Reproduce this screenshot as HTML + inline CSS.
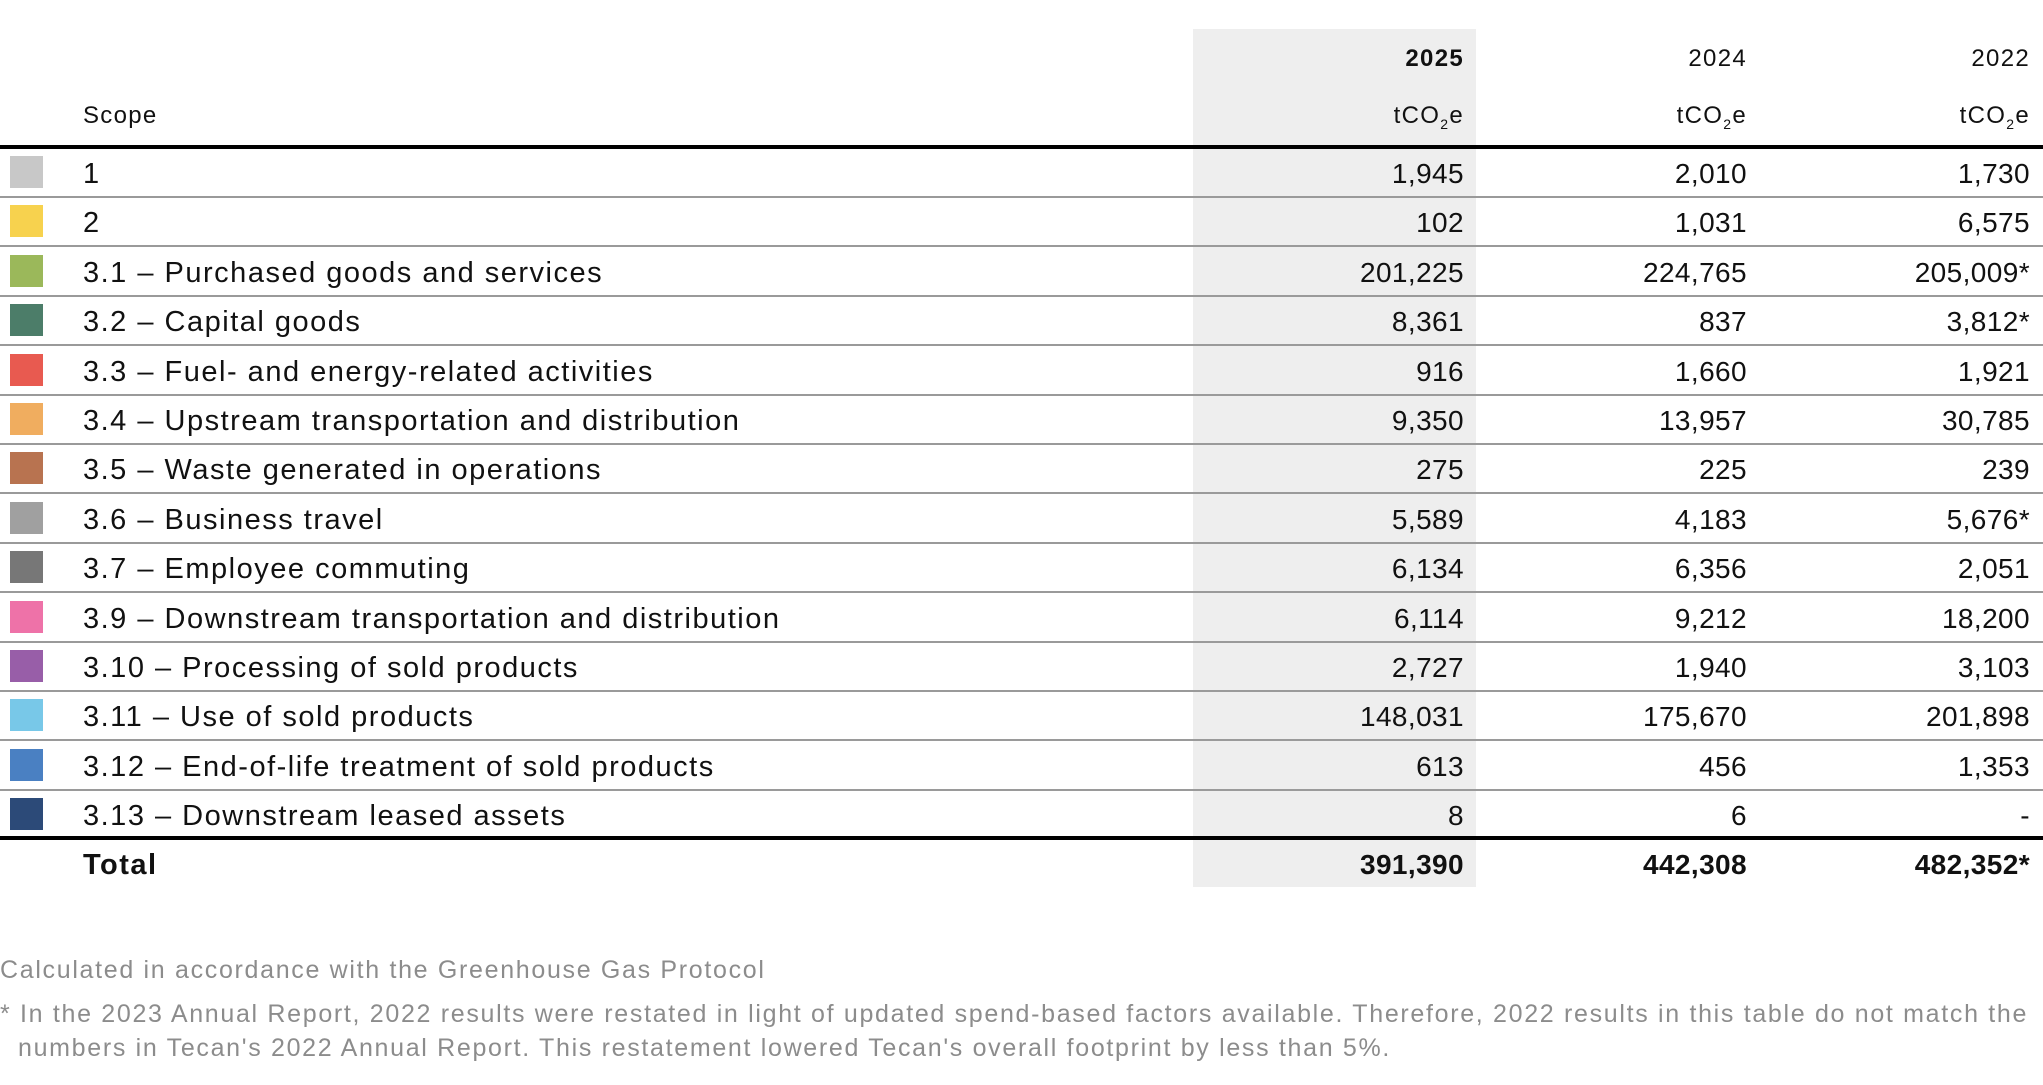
<!DOCTYPE html>
<html><head><meta charset="utf-8"><style>
body{margin:0;width:2043px;height:1085px;background:#fff;position:relative;overflow:hidden;font-family:"Liberation Sans",sans-serif;color:#111}
.a{position:absolute}
.shade{left:1193px;top:29px;width:283px;height:858px;background:#eeeeee}
.t{position:absolute;font-size:28px;line-height:32px;white-space:nowrap}
.lab{font-size:29px;letter-spacing:1.5px}
.r{text-align:right}
.n{letter-spacing:0.4px}
.hl{position:absolute;left:0;width:2043px;height:2px;background:#9a9a9a}
.thick{position:absolute;left:0;width:2043px;height:4px;background:#000}
.sw{position:absolute;left:10px;width:33px;height:32px}
.h{font-size:24px;letter-spacing:1.3px}
.foot{position:absolute;left:0;font-size:25px;letter-spacing:1.68px;color:#8c8c8c;white-space:nowrap}
</style></head><body>
<div class="a shade"></div>
<div class="t h r" style="left:1200px;width:264px;top:43px;font-weight:bold">2025</div>
<div class="t h r" style="left:1480px;width:267px;top:43px">2024</div>
<div class="t h r" style="left:1760px;width:270px;top:43px">2022</div>
<div class="t h" style="left:83px;top:100px">Scope</div>
<div class="t h r" style="left:1200px;width:264px;top:100px">tCO<sub style="font-size:14px">2</sub>e</div>
<div class="t h r" style="left:1480px;width:267px;top:100px">tCO<sub style="font-size:14px">2</sub>e</div>
<div class="t h r" style="left:1760px;width:270px;top:100px">tCO<sub style="font-size:14px">2</sub>e</div>
<div class="thick" style="top:145px"></div>
<div id="rows"></div>
<div class="thick" style="top:836px"></div>
<div class="t lab" style="left:83px;top:849px;font-weight:bold">Total</div>
<div class="t r n" style="left:1200px;width:264px;top:849px;font-weight:bold">391,390</div>
<div class="t r n" style="left:1480px;width:267px;top:849px;font-weight:bold">442,308</div>
<div class="t r n" style="left:1760px;width:270px;top:849px;font-weight:bold">482,352*</div>
<div class="foot" style="top:956px">Calculated in accordance with the Greenhouse Gas Protocol</div>
<div class="foot" style="top:1000px">* In the 2023 Annual Report, 2022 results were restated in light of updated spend-based factors available. Therefore, 2022 results in this table do not match the</div>
<div class="foot" style="top:1034px;left:18px">numbers in Tecan's 2022 Annual Report. This restatement lowered Tecan's overall footprint by less than 5%.</div>
<script>
var d=[["#c8c8c8","1","1,945","2,010","1,730"],["#f7d24e","2","102","1,031","6,575"],["#9bb85a","3.1 – Purchased goods and services","201,225","224,765","205,009*"],["#4c7d69","3.2 – Capital goods","8,361","837","3,812*"],["#e85a50","3.3 – Fuel- and energy-related activities","916","1,660","1,921"],["#f0ad5f","3.4 – Upstream transportation and distribution","9,350","13,957","30,785"],["#b87350","3.5 – Waste generated in operations","275","225","239"],["#a0a0a0","3.6 – Business travel","5,589","4,183","5,676*"],["#777777","3.7 – Employee commuting","6,134","6,356","2,051"],["#ee72a8","3.9 – Downstream transportation and distribution","6,114","9,212","18,200"],["#985ea8","3.10 – Processing of sold products","2,727","1,940","3,103"],["#78c8e8","3.11 – Use of sold products","148,031","175,670","201,898"],["#4a80c2","3.12 – End-of-life treatment of sold products","613","456","1,353"],["#2c4a78","3.13 – Downstream leased assets","8","6","-"]];
var h="";d.forEach(function(r,i){var c=173+i*49.4;
h+='<div class="sw" style="top:'+(c-17)+'px;background:'+r[0]+'"></div>';
h+='<div class="t lab" style="left:83px;top:'+(c-15)+'px">'+r[1]+'</div>';
h+='<div class="t r n" style="left:1200px;width:264px;top:'+(c-15)+'px">'+r[2]+'</div>';
h+='<div class="t r n" style="left:1480px;width:267px;top:'+(c-15)+'px">'+r[3]+'</div>';
h+='<div class="t r n" style="left:1760px;width:270px;top:'+(c-15)+'px">'+r[4]+'</div>';
if(i<13)h+='<div class="hl" style="top:'+(c+23)+'px"></div>';});
document.getElementById("rows").innerHTML=h;
</script>
</body></html>
